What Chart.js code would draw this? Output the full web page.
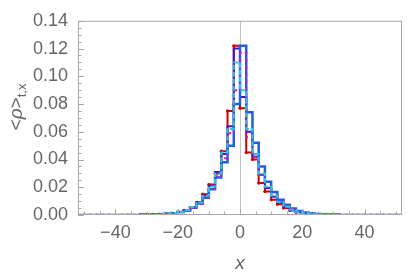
<!DOCTYPE html>
<html>
<head>
<meta charset="utf-8">
<script src="https://cdn.jsdelivr.net/npm/chart.js@4"></script>
<style>
  html, body { margin: 0; padding: 0; background: #fff; }
</style>
</head>
<body>
<canvas id="chart" width="407" height="277"></canvas>
<script>
// bin left edges (width 2), last point closes the step
const binEdges = [-52, -50, -48, -46, -44, -42, -40, -38, -36, -34, -32, -30, -28, -26, -24, -22, -20, -18, -16, -14, -12, -10, -8, -6, -4, -2,
                  0, 2, 4, 6, 8, 10, 12, 14, 16, 18, 20, 22, 24, 26, 28, 30, 32, 34, 36, 38, 40, 42, 44, 46, 48, 50, 52];

const redSeries = [0, 0, 0, 0, 0, 0, 0, 0, 0, 0,
  0.0001, 0.0002, 0.0004, 0.0006, 0.0009, 0.0013, 0.0021, 0.0034, 0.0056, 0.0090, 0.0150, 0.0220, 0.0300, 0.0460, 0.0750, 0.1220,
  0.0770, 0.0450, 0.0400, 0.0230, 0.0170, 0.0110, 0.0078, 0.0050, 0.0032, 0.0020, 0.0012, 0.0008, 0.0005, 0.0003, 0.0002, 0.0001,
  0, 0, 0, 0, 0, 0, 0, 0, 0, 0, 0];
const indigoSeries = [0, 0, 0, 0, 0, 0, 0, 0, 0, 0,
  0.0001, 0.0002, 0.0003, 0.0005, 0.0009, 0.0014, 0.0022, 0.0036, 0.0058, 0.0092, 0.0140, 0.0210, 0.0310, 0.0440, 0.0640, 0.1200,
  0.0850, 0.0600, 0.0420, 0.0290, 0.0195, 0.0132, 0.0090, 0.0058, 0.0036, 0.0022, 0.0014, 0.0009, 0.0005, 0.0003, 0.0002, 0.0001,
  0, 0, 0, 0, 0, 0, 0, 0, 0, 0, 0];
const blueSeries = [0, 0, 0, 0, 0, 0, 0, 0, 0, 0,
  0.0001, 0.0002, 0.0003, 0.0005, 0.0008, 0.0013, 0.0021, 0.0033, 0.0053, 0.0083, 0.0125, 0.0185, 0.0270, 0.0380, 0.0500, 0.0800,
  0.1220, 0.0740, 0.0520, 0.0350, 0.0240, 0.0165, 0.0110, 0.0073, 0.0046, 0.0029, 0.0018, 0.0011, 0.0007, 0.0004, 0.0002, 0.0001,
  0, 0, 0, 0, 0, 0, 0, 0, 0, 0, 0];
const magentaSeries = [0, 0, 0, 0, 0, 0, 0, 0, 0, 0,
  0.0001, 0.0002, 0.0003, 0.0005, 0.0008, 0.0012, 0.0019, 0.0031, 0.0050, 0.0080, 0.0125, 0.0190, 0.0280, 0.0410, 0.0590, 0.0900,
  0.1170, 0.0560, 0.0420, 0.0290, 0.0200, 0.0138, 0.0094, 0.0062, 0.0039, 0.0024, 0.0015, 0.0009, 0.0005, 0.0003, 0.0002, 0.0001,
  0, 0, 0, 0, 0, 0, 0, 0, 0, 0, 0];
const cyanSeries = [0, 0, 0, 0, 0, 0, 0, 0, 0, 0,
  0.0001, 0.0002, 0.0003, 0.0005, 0.0009, 0.0014, 0.0022, 0.0036, 0.0057, 0.0090, 0.0138, 0.0205, 0.0300, 0.0450, 0.0620, 0.1100,
  0.0900, 0.0620, 0.0440, 0.0300, 0.0205, 0.0140, 0.0093, 0.0059, 0.0037, 0.0023, 0.0014, 0.0009, 0.0005, 0.0003, 0.0002, 0.0001,
  0, 0, 0, 0, 0, 0, 0, 0, 0, 0, 0];

const xTicks = [-40, -20, 0, 20, 40];
const yTicks = [0, 0.02, 0.04, 0.06, 0.08, 0.10, 0.12, 0.14];

const textColor = '#666';
const frameColor = '#a8a8a8';

function points(vals) {
    return binEdges.map((x, i) => ({ x: x, y: vals[i] }));
}

function series(vals, color, width, dash, radius) {
    return {
        data: points(vals),
        borderColor: color,
        backgroundColor: color,
        borderWidth: width,
        borderDash: dash,
        pointRadius: radius,
        pointBorderWidth: 0,
        stepped: true,
        fill: false
    };
}

// frame, inward ticks, axis line at x = 0 and axis titles
const framePlugin = {
    id: 'frame',
    beforeDatasetsDraw(chart) {
        const { ctx, chartArea: a, scales: { x } } = chart;
        const x0 = Math.round(x.getPixelForValue(0)) + 0.5;
        ctx.save();
        ctx.strokeStyle = '#c4c4c4';
        ctx.lineWidth = 1;
        ctx.beginPath();
        ctx.moveTo(x0, a.top);
        ctx.lineTo(x0, a.bottom);
        ctx.stroke();
        ctx.restore();
    },
    afterDraw(chart) {
        const { ctx, chartArea: a, scales: { x, y } } = chart;
        ctx.save();
        ctx.strokeStyle = frameColor;
        ctx.lineWidth = 1;
        ctx.strokeRect(a.left + 0.5, a.top + 0.5, a.right - a.left - 1, a.bottom - a.top - 1);

        ctx.beginPath();
        for (let v = 0; v <= 0.1401; v += 0.005) {
            const py = Math.round(y.getPixelForValue(v)) + 0.5;
            const major = Math.abs(v / 0.02 - Math.round(v / 0.02)) < 1e-6;
            ctx.moveTo(a.left, py);
            ctx.lineTo(a.left + (major ? 6 : 3.5), py);
        }
        for (let v = -50; v <= 50; v += 5) {
            const px = Math.round(x.getPixelForValue(v)) + 0.5;
            const major = v % 20 === 0;
            ctx.moveTo(px, a.bottom);
            ctx.lineTo(px, a.bottom - (major ? 6 : 3.5));
        }
        ctx.stroke();

        // x title
        ctx.fillStyle = textColor;
        ctx.font = 'italic 19px "Liberation Sans"';
        ctx.textAlign = 'center';
        ctx.textBaseline = 'middle';
        ctx.fillText('x', x.getPixelForValue(0), 264);

        // y title: <ρ> with subscript t,x
        ctx.translate(17, 107);
        ctx.rotate(-Math.PI / 2);
        ctx.textAlign = 'left';
        ctx.textBaseline = 'alphabetic';
        const main = '19px "Liberation Sans"';
        const ital = 'italic 19px "Liberation Sans"';
        const sub = '13px "Liberation Sans"';
        ctx.font = main; const w1 = ctx.measureText('<').width;
        ctx.font = ital; const w2 = ctx.measureText('ρ').width;
        ctx.font = main; const w3 = ctx.measureText('>').width;
        ctx.font = sub; const w4 = ctx.measureText('t,x').width;
        let cx = -(w1 + w2 + w3 + w4) / 2;
        ctx.font = main; ctx.fillText('<', cx, 5); cx += w1;
        ctx.font = ital; ctx.fillText('ρ', cx, 5); cx += w2;
        ctx.font = main; ctx.fillText('>', cx, 5); cx += w3;
        ctx.font = sub; ctx.fillText('t,x', cx, 9);
        ctx.restore();
    }
};

new Chart(document.getElementById('chart'), {
    type: 'line',
    data: {
        datasets: [
            series(cyanSeries, '#2cc6d6', 2, [5, 2], 0),
            series(magentaSeries, '#b321c4', 2, [4, 3], 0),
            series(blueSeries, '#1f5fe0', 2.5, [], 0),
            series(indigoSeries, '#4414c8', 2, [], 0),
            series(redSeries, '#d00000', 2, [], 1.6)
        ]
    },
    options: {
        responsive: false,
        animation: false,
        devicePixelRatio: 1,
        layout: { padding: { top: 16, right: 5, left: 0, bottom: 0 } },
        plugins: { legend: { display: false }, tooltip: { enabled: false } },
        scales: {
            x: {
                type: 'linear',
                min: -52,
                max: 52,
                grid: { display: false, drawTicks: false },
                border: { display: false },
                afterBuildTicks: s => { s.ticks = xTicks.map(v => ({ value: v })); },
                afterFit: s => { s.height = 62; },
                ticks: {
                    color: textColor,
                    font: { family: 'Liberation Sans', size: 18 },
                    padding: 7,
                    maxRotation: 0,
                    callback: v => v < 0 ? '\u2212' + Math.abs(v) : String(v)
                }
            },
            y: {
                type: 'linear',
                min: 0,
                max: 0.14,
                grid: { display: false, drawTicks: false },
                border: { display: false },
                afterBuildTicks: s => { s.ticks = yTicks.map(v => ({ value: v })); },
                afterFit: s => { s.width = 78; },
                ticks: {
                    color: textColor,
                    font: { family: 'Liberation Sans', size: 18 },
                    padding: 10,
                    callback: v => v.toFixed(2)
                }
            }
        }
    },
    plugins: [framePlugin]
});
</script>
</body>
</html>
